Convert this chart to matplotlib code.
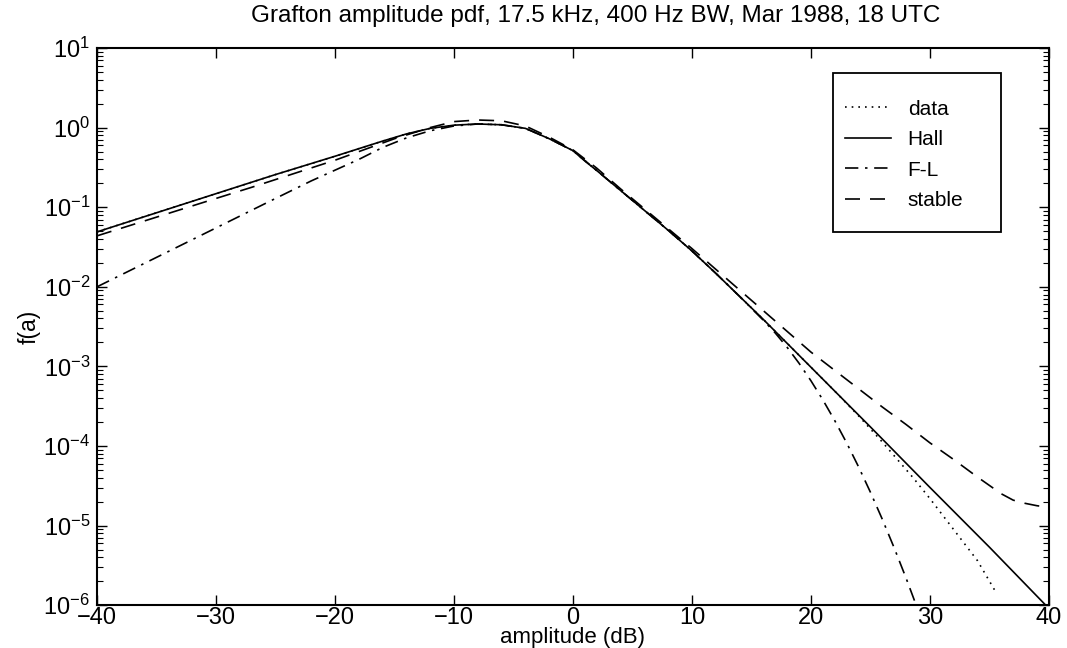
import numpy as np
import matplotlib
matplotlib.use("Agg")
import matplotlib.pyplot as plt
from matplotlib.patches import Rectangle
from matplotlib.ticker import LogLocator, FixedLocator

plt.rcParams['font.family'] = ['Liberation Sans', 'DejaVu Sans']
plt.rcParams['mathtext.fontset'] = 'custom'
plt.rcParams['mathtext.rm'] = 'Liberation Sans'
plt.rcParams['mathtext.it'] = 'Liberation Sans'

TITLE = "Grafton amplitude pdf, 17.5 kHz, 400 Hz BW, Mar 1988, 18 UTC"

# amplitude (dB) and log10 f(a)
hall_x = [-40, -35, -30, -25, -20, -16, -14, -12, -10, -8, -6, -4, -2, 0, 1, 2, 4,
          6, 8, 10, 12, 14, 16, 18, 20, 25, 30, 35, 40]
hall_y = [-1.31, -1.07, -0.83, -0.59, -0.36, -0.17, -0.08, -0.01, 0.03, 0.045, 0.035,
          -0.01, -0.14, -0.29, -0.42, -0.54, -0.79, -1.04, -1.29, -1.55, -1.83, -2.12,
          -2.41, -2.71, -3.01, -3.76, -4.52, -5.27, -6.04]

data_x = [-40, -35, -30, -25, -20, -16, -14, -12, -10, -8, -6, -4, -2, 0, 2, 4, 6, 8,
          10, 12, 14, 16, 18, 20, 22, 24, 26, 28.6, 30, 32, 34, 35.6]
data_y = [-1.31, -1.07, -0.83, -0.59, -0.36, -0.17, -0.08, -0.01, 0.03, 0.045, 0.035,
          -0.01, -0.14, -0.29, -0.54, -0.79, -1.04, -1.29, -1.55, -1.83, -2.12, -2.41,
          -2.71, -3.01, -3.31, -3.62, -3.95, -4.40, -4.66, -5.05, -5.44, -5.85]

fl_x = [-40, -35, -30, -25, -22, -18, -16, -14, -12, -10, -8, -6, -4, -2, 0, 2, 4, 6,
        8, 10, 12, 14, 16, 17, 18, 19, 20, 21, 22, 23, 24, 25, 26, 27, 28, 29]
fl_y = [-2.0, -1.63, -1.26, -0.89, -0.67, -0.40, -0.25, -0.13, -0.04, 0.02, 0.045,
        0.035, -0.01, -0.14, -0.29, -0.54, -0.79, -1.04, -1.29, -1.55, -1.83, -2.12,
        -2.42, -2.58, -2.76, -2.96, -3.18, -3.42, -3.68, -3.96, -4.26, -4.58, -4.92,
        -5.28, -5.66, -6.06]

stable_x = [-40, -30, -27, -20, -15, -12, -10, -8, -6, -4, -2, 0, 2, 4, 6, 8, 10, 12,
            14, 16, 18, 20, 22, 24, 26, 28, 30, 32, 34, 36, 37, 38, 39, 40]
stable_y = [-1.36, -0.89, -0.75, -0.41, -0.14, 0.0, 0.075, 0.095, 0.085, 0.02, -0.12,
            -0.28, -0.51, -0.77, -1.02, -1.27, -1.52, -1.78, -2.04, -2.30, -2.56, -2.82,
            -3.05, -3.28, -3.51, -3.73, -3.96, -4.17, -4.39, -4.60, -4.68, -4.72, -4.75,
            -4.77]

x_ticks = [-40, -30, -20, -10, 0, 10, 20, 30, 40]


def main():
    fig = plt.figure(figsize=(10.67, 6.48), dpi=100)
    ax = fig.add_axes([0.091, 0.066, 0.892, 0.86])

    lw = 1.2
    ax.plot(data_x, 10 ** np.array(data_y), color='k', lw=lw, ls=(0, (1, 3)), label='data')
    ax.plot(hall_x, 10 ** np.array(hall_y), color='k', lw=lw, ls='-', label='Hall')
    ax.plot(fl_x, 10 ** np.array(fl_y), color='k', lw=lw, ls=(0, (8, 4, 1.5, 4)), label='F-L')
    ax.plot(stable_x, 10 ** np.array(stable_y), color='k', lw=lw, ls=(0, (9, 6)), label='stable')

    ax.set_yscale('log')
    ax.set_xlim(-40, 40)
    ax.set_ylim(1e-6, 1e1)
    ax.xaxis.set_major_locator(FixedLocator(x_ticks))
    ax.yaxis.set_major_locator(LogLocator(base=10, numticks=20))
    ax.yaxis.set_minor_locator(LogLocator(base=10, subs=np.arange(2, 10), numticks=20))
    ax.tick_params(which='both', direction='in', top=True, right=True, labelsize=17)
    ax.tick_params(which='major', length=7, width=1)
    ax.tick_params(which='minor', length=4, width=0.8)
    ax.tick_params(axis='x', pad=1)
    ax.tick_params(axis='y', pad=5)
    for s in ax.spines.values():
        s.set_linewidth(1.5)

    ax.set_title(TITLE, fontsize=17.5, pad=19, x=0.524)
    ax.set_xlabel('amplitude (dB)', fontsize=16, labelpad=-1)
    ax.set_ylabel('f(a)', fontsize=16.5, labelpad=2)

    # legend box like the MATLAB one: roomier top/bottom than sides
    ax.add_patch(Rectangle((0.773, 0.670), 0.177, 0.285, transform=ax.transAxes,
                           fill=True, facecolor='white', edgecolor='k', lw=1.3, zorder=4))
    leg = ax.legend(loc='center left', bbox_to_anchor=(0.775, 0.808), fontsize=15,
                    frameon=False, handlelength=2.2, handletextpad=0.8,
                    borderpad=0, labelspacing=0.55)
    leg.set_zorder(5)

    fig.savefig('out.png', dpi=100)
    plt.close(fig)


if __name__ == "__main__":
    main()
